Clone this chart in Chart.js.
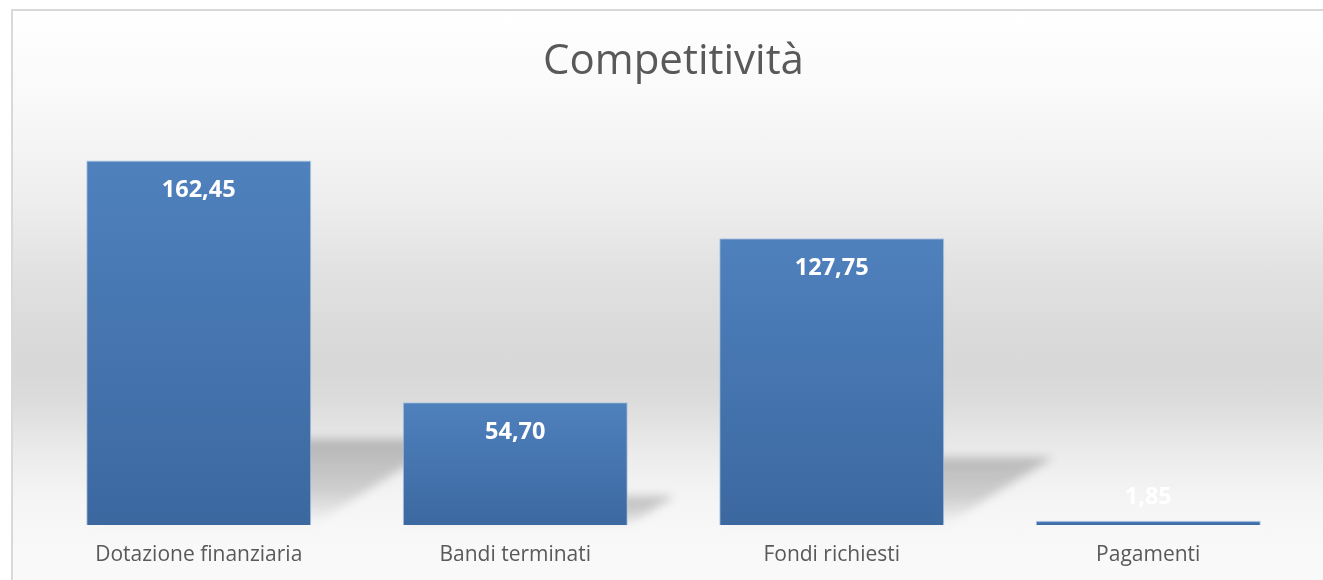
<!DOCTYPE html>
<html>
<head>
<meta charset="utf-8">
<script src="https://cdn.jsdelivr.net/npm/chart.js@4.4.1/dist/chart.umd.min.js"></script>
<style>
  html, body { margin: 0; padding: 0; background: #fff; overflow: hidden; }
  #frame {
    position: absolute; left: 11px; top: 9px;
    width: 1330px; height: 590px;
    border: 2px solid #d9d9d9;
    background: linear-gradient(to bottom, #ffffff 0px, #f9f9f9 90px, #eeeeee 190px, #e2e2e2 258px,
      #dadada 324px, #d8d8d8 358px, #dcdcdc 391px, #e6e6e6 424px, #efefef 458px, #f5f5f5 491px, #f9f9f9 541px);
  }
  #wrap { position: absolute; left: 0; top: 0; width: 1310px; height: 569px; }
</style>
</head>
<body>
<div id="frame"><div id="wrap"><canvas id="chart"></canvas></div></div>
<script>
const categories = ['Dotazione finanziaria', 'Bandi terminati', 'Fondi richiesti', 'Pagamenti'];
const values = [162.45, 54.70, 127.75, 1.85];
const chartTitle = 'Competitività';

const fmt = v => v.toFixed(2).replace('.', ',');

// perspective shadow behind each bar
const barShadow = {
  id: 'barShadow',
  beforeDatasetsDraw(chart) {
    const ctx = chart.ctx;
    const meta = chart.getDatasetMeta(0);
    meta.data.forEach(bar => {
      const h = bar.base - bar.y;
      if (!(h >= 10)) return;
      const left = bar.x - bar.width / 2, right = bar.x + bar.width / 2;
      const sh = h * 0.235, shift = sh / 0.62;
      ctx.save();
      ctx.filter = 'blur(5px)';
      const g = ctx.createLinearGradient(0, bar.base - sh, 0, bar.base);
      g.addColorStop(0, 'rgba(0,0,0,0.22)');
      g.addColorStop(0.6, 'rgba(0,0,0,0.15)');
      g.addColorStop(1, 'rgba(0,0,0,0.0)');
      ctx.fillStyle = g;
      ctx.beginPath();
      ctx.moveTo(left, bar.base);
      ctx.lineTo(right, bar.base);
      ctx.lineTo(right + shift, bar.base - sh);
      ctx.lineTo(left + shift, bar.base - sh);
      ctx.closePath();
      ctx.fill();
      ctx.restore();
    });
  }
};

// white value labels near the top of the bars
const valueLabels = {
  id: 'valueLabels',
  afterDatasetsDraw(chart) {
    const ctx = chart.ctx;
    const meta = chart.getDatasetMeta(0);
    ctx.save();
    ctx.font = 'bold 23.5px "Open Sans"';
    ctx.fillStyle = '#ffffff';
    ctx.textAlign = 'center';
    ctx.textBaseline = 'middle';
    meta.data.forEach((bar, i) => {
      const y = Math.min(bar.y + 30, bar.base - 28);
      ctx.fillText(fmt(values[i]), bar.x, y);
    });
    ctx.restore();
  }
};

// vertical gradient per bar, from its top to the baseline
function barFill(context) {
  const chart = context.chart;
  const ys = chart.scales && chart.scales.y;
  if (!chart.chartArea || !ys || context.raw == null) return '#4a7bb7';
  const top = ys.getPixelForValue(context.raw);
  const bottom = ys.getPixelForValue(0);
  if (!Number.isFinite(top) || !Number.isFinite(bottom)) return '#4a7bb7';
  const g = chart.ctx.createLinearGradient(0, top, 0, Math.max(bottom, top + 1));
  g.addColorStop(0, '#4f81bd');
  g.addColorStop(1, '#3c68a0');
  return g;
}

new Chart(document.getElementById('chart'), {
  type: 'bar',
  data: {
    labels: categories,
    datasets: [{
      data: values,
      backgroundColor: barFill,
      borderColor: 'rgba(170,195,225,0.9)',
      borderWidth: 1,
      categoryPercentage: 1,
      barPercentage: 0.711
    }]
  },
  options: {
    responsive: true,
    maintainAspectRatio: false,
    animation: false,
    layout: { padding: { left: 27.5, right: 16.5, top: 0, bottom: 0 } },
    plugins: {
      legend: { display: false },
      tooltip: { enabled: false },
      title: {
        display: true,
        text: chartTitle,
        color: '#595959',
        font: { family: '"Open Sans"', size: 42, weight: 'normal' },
        padding: { top: 26, bottom: 33.6 }
      }
    },
    scales: {
      x: {
        grid: { display: false, drawTicks: false },
        border: { display: false },
        afterFit(scale) { scale.height = 55; },
        ticks: {
          color: '#595959',
          font: { family: '"Open Sans"', size: 21 },
          padding: 17,
          maxRotation: 0,
          autoSkip: false
        }
      },
      y: { display: false, min: 0, max: 180 }
    }
  },
  plugins: [barShadow, valueLabels]
});
</script>
</body>
</html>
